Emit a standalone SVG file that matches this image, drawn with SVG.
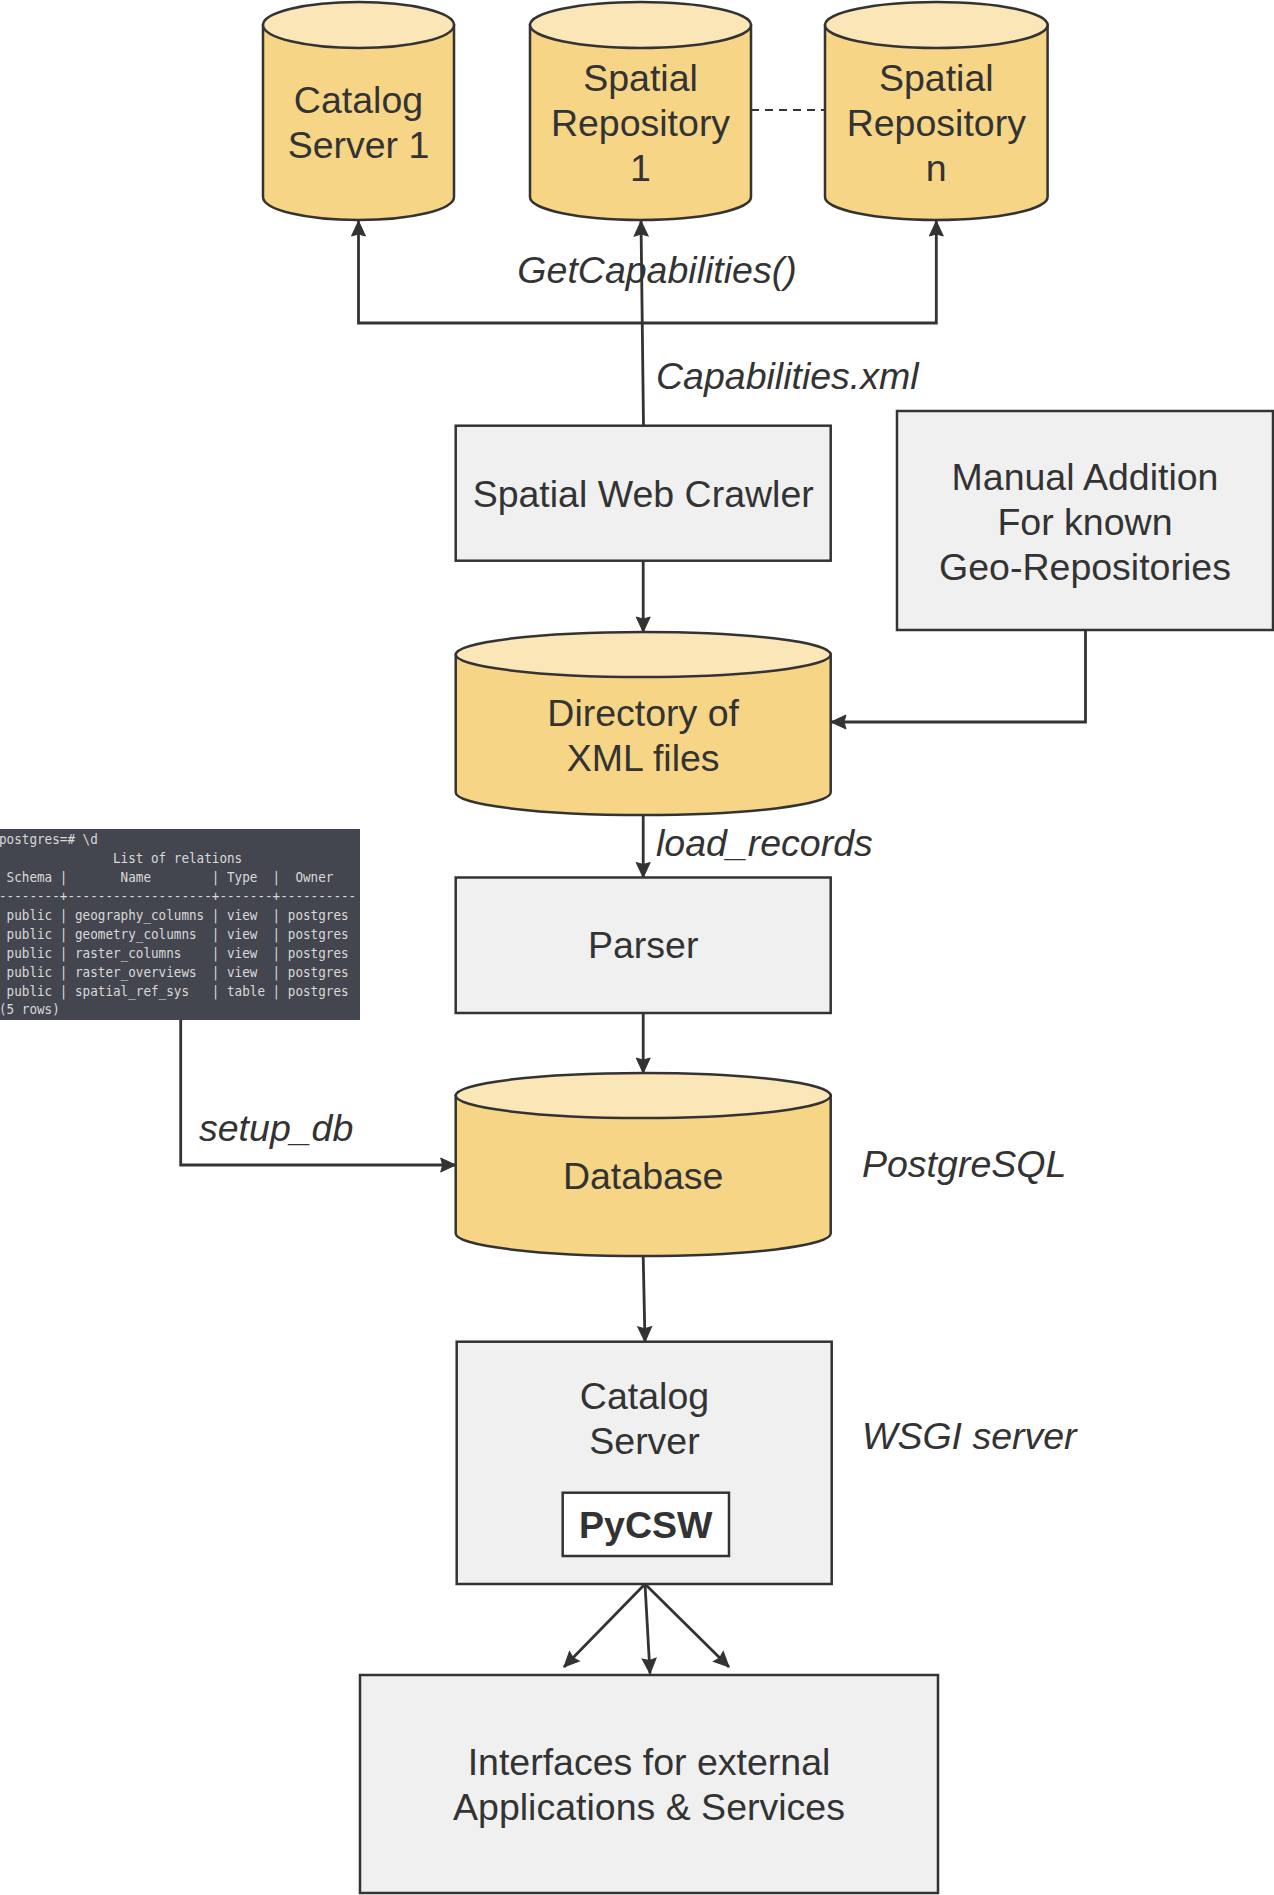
<svg xmlns="http://www.w3.org/2000/svg" width="1274" height="1895" viewBox="0 0 1274 1895">
<defs>
<marker id="arr" markerUnits="userSpaceOnUse" markerWidth="18" markerHeight="16" refX="15" refY="7" orient="auto" overflow="visible">
<path d="M0,0 L15,7 L0,14 L2,7 Z" fill="#333333" stroke="#333333" stroke-width="1" stroke-linejoin="miter"/>
</marker>
</defs>
<style>
.body{fill:#f6d586;stroke:#333333;stroke-width:2.5}
.top{fill:#fae6b6;stroke:#333333;stroke-width:2.5}
.box{fill:#f0f0f0;stroke:#333333;stroke-width:2.5}
.t{font-family:"Liberation Sans",Arial,sans-serif;font-size:37.5px;fill:#333333;text-anchor:middle}
.i{font-family:"Liberation Sans",Arial,sans-serif;font-size:37.5px;fill:#333333;font-style:italic}
.c{fill:none;stroke:#333333;stroke-width:2.8;marker-end:url(#arr)}
.term{font-family:"DejaVu Sans Mono",monospace;font-size:14.5px;fill:#d9d9d9;white-space:pre}
</style>
<rect width="1274" height="1895" fill="#ffffff"/>

<g id="connectors">
<path class="c" d="M643.5,425.7 L641,221"/>
<path class="c" d="M643,323 H358.5 V221"/>
<path class="c" d="M643,323 H936.3 V221"/>
<path d="M751,110 H825" fill="none" stroke="#333333" stroke-width="2" stroke-dasharray="8 6"/>
<path class="c" d="M643.2,560.7 V632"/>
<path class="c" d="M1085.5,630 V722 H831"/>
<path class="c" d="M643.2,815 V877.5"/>
<path class="c" d="M643.2,1013 V1073"/>
<path class="c" d="M180.7,1020 V1165 H455.7"/>
<path class="c" d="M643.2,1256 L645,1341.7"/>
<path class="c" d="M645,1584 L564,1667"/>
<path class="c" d="M645,1584 L650,1673.5"/>
<path class="c" d="M645,1584 L729,1667"/>
<text class="i" x="657" y="283" text-anchor="middle">GetCapabilities()</text>
<text class="i" x="656" y="389">Capabilities.xml</text>
<text class="i" x="656" y="856">load_records</text>
<text class="i" x="199" y="1141">setup_db</text>
</g>

<g id="catalog-server-1">
<path class="body" d="M263,25 V197 A95.5,23 0 0 0 454,197 V25 Z"/>
<ellipse class="top" cx="358.5" cy="25" rx="95.5" ry="23"/>
<text class="t" x="358.5" y="113">Catalog</text>
<text class="t" x="358.5" y="158">Server 1</text>
</g>

<g id="spatial-repository-1">
<path class="body" d="M530,25 V197 A110.5,23 0 0 0 751,197 V25 Z"/>
<ellipse class="top" cx="640.5" cy="25" rx="110.5" ry="23"/>
<text class="t" x="640.5" y="91">Spatial</text>
<text class="t" x="640.5" y="136">Repository</text>
<text class="t" x="640.5" y="181">1</text>
</g>

<g id="spatial-repository-n">
<path class="body" d="M825,25 V197 A111.3,23 0 0 0 1047.6,197 V25 Z"/>
<ellipse class="top" cx="936.3" cy="25" rx="111.3" ry="23"/>
<text class="t" x="936.3" y="91">Spatial</text>
<text class="t" x="936.3" y="136">Repository</text>
<text class="t" x="936.3" y="181">n</text>
</g>

<g id="spatial-web-crawler">
<rect class="box" x="455.7" y="425.7" width="375" height="135"/>
<text class="t" x="643.2" y="507">Spatial Web Crawler</text>
</g>

<g id="manual-addition">
<rect class="box" x="897" y="411" width="376" height="219"/>
<text class="t" x="1085" y="490">Manual Addition</text>
<text class="t" x="1085" y="535">For known</text>
<text class="t" x="1085" y="580">Geo-Repositories</text>
</g>

<g id="directory-xml">
<path class="body" d="M455.7,654.5 V792.5 A187.5,22.5 0 0 0 830.7,792.5 V654.5 Z"/>
<ellipse class="top" cx="643.2" cy="654.5" rx="187.5" ry="22.5"/>
<text class="t" x="643.2" y="726">Directory of</text>
<text class="t" x="643.2" y="771">XML files</text>
</g>

<g id="parser">
<rect class="box" x="455.7" y="877.5" width="375" height="135.5"/>
<text class="t" x="643.2" y="958">Parser</text>
</g>

<g id="terminal">
<rect x="0" y="829" width="360" height="191" fill="#43464f"/>
<text class="term" xml:space="preserve" x="-1" y="844" textLength="98.8" lengthAdjust="spacingAndGlyphs">postgres=# \d</text>
<text class="term" xml:space="preserve" x="-1" y="863" textLength="243.2" lengthAdjust="spacingAndGlyphs">               List of relations</text>
<text class="term" xml:space="preserve" x="-1" y="882" textLength="334.4" lengthAdjust="spacingAndGlyphs"> Schema |       Name        | Type  |  Owner</text>
<text class="term" xml:space="preserve" x="-1" y="901" textLength="357.2" lengthAdjust="spacingAndGlyphs">--------+-------------------+-------+----------</text>
<text class="term" xml:space="preserve" x="-1" y="920" textLength="349.6" lengthAdjust="spacingAndGlyphs"> public | geography_columns | view  | postgres</text>
<text class="term" xml:space="preserve" x="-1" y="939" textLength="349.6" lengthAdjust="spacingAndGlyphs"> public | geometry_columns  | view  | postgres</text>
<text class="term" xml:space="preserve" x="-1" y="957.5" textLength="349.6" lengthAdjust="spacingAndGlyphs"> public | raster_columns    | view  | postgres</text>
<text class="term" xml:space="preserve" x="-1" y="976.5" textLength="349.6" lengthAdjust="spacingAndGlyphs"> public | raster_overviews  | view  | postgres</text>
<text class="term" xml:space="preserve" x="-1" y="995.5" textLength="349.6" lengthAdjust="spacingAndGlyphs"> public | spatial_ref_sys   | table | postgres</text>
<text class="term" xml:space="preserve" x="-1" y="1014" textLength="60.8" lengthAdjust="spacingAndGlyphs">(5 rows)</text>
</g>

<g id="database">
<path class="body" d="M455.7,1095.5 V1233.5 A187.5,22.5 0 0 0 830.7,1233.5 V1095.5 Z"/>
<ellipse class="top" cx="643.2" cy="1095.5" rx="187.5" ry="22.5"/>
<text class="t" x="643.2" y="1189">Database</text>
</g>

<g id="postgresql-label">
<text class="i" x="862" y="1177">PostgreSQL</text>
</g>

<g id="catalog-server">
<rect class="box" x="456.7" y="1341.7" width="375" height="242.3"/>
<text class="t" x="644.5" y="1409">Catalog</text>
<text class="t" x="644.5" y="1454">Server</text>
<rect x="562.7" y="1492.7" width="166.3" height="63.3" fill="#ffffff" stroke="#333333" stroke-width="2.5"/>
<text class="t" x="645.8" y="1538" font-weight="bold">PyCSW</text>
</g>

<g id="wsgi-label">
<text class="i" x="862" y="1449">WSGI server</text>
</g>

<g id="interfaces">
<rect class="box" x="360" y="1675" width="578" height="218"/>
<text class="t" x="649" y="1775">Interfaces for external</text>
<text class="t" x="649" y="1820">Applications &amp; Services</text>
</g>
</svg>
